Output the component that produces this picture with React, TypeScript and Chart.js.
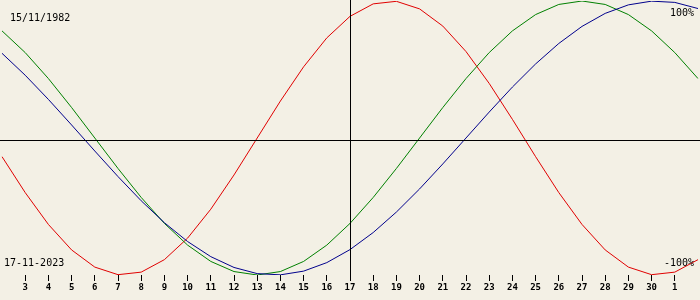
import React, { useEffect, useRef } from "react";
import { Chart, registerables } from "chart.js";

Chart.register(...registerables);

// Days from 2 Nov 2023 to 2 Dec 2023
const days = [
  "2", "3", "4", "5", "6", "7", "8", "9", "10", "11", "12", "13", "14", "15", "16",
  "17", "18", "19", "20", "21", "22", "23", "24", "25", "26", "27", "28", "29", "30",
  "1", "2",
];

const physical = [
  -0.1362, -0.3984, -0.631, -0.817, -0.9423, -0.9977, -0.9791, -0.8879, -0.7308, -0.5196,
  -0.2698, 0, 0.2698, 0.5196, 0.7308, 0.8879, 0.9791, 0.9977, 0.9423, 0.817, 0.631, 0.3984,
  0.1362, -0.1362, -0.3984, -0.631, -0.817, -0.9423, -0.9977, -0.9791, -0.8879,
];

const emotional = [
  0.7818, 0.6235, 0.4339, 0.2225, 0, -0.2225, -0.4339, -0.6235, -0.7818, -0.901, -0.9749,
  -1, -0.9749, -0.901, -0.7818, -0.6235, -0.4339, -0.2225, 0, 0.2225, 0.4339, 0.6235,
  0.7818, 0.901, 0.9749, 1, 0.9749, 0.901, 0.7818, 0.6235, 0.4339,
];

const intellectual = [
  0.6182, 0.4582, 0.2817, 0.0951, -0.0951, -0.2817, -0.4582, -0.6182, -0.7557, -0.866,
  -0.945, -0.9898, -0.9989, -0.9718, -0.9096, -0.8146, -0.6901, -0.5406, -0.3717, -0.1893,
  0, 0.1893, 0.3717, 0.5406, 0.6901, 0.8146, 0.9096, 0.9718, 0.9989, 0.9898, 0.945,
];

const birthDate = "15/11/1982";
const currentDate = "17-11-2023";
const todayIndex = 15;
const topLabel = "100%";
const bottomLabel = "-100%";

const BG = "#f3f0e5";

const overlayPlugin = {
  id: "overlay",
  beforeDraw(chart: any) {
    const { ctx, width, height } = chart;
    ctx.save();
    ctx.fillStyle = BG;
    ctx.fillRect(0, 0, width, height);
    ctx.restore();
  },
  afterDatasetsDraw(chart: any) {
    const { ctx, chartArea, scales } = chart;
    const x = scales.x;
    const y = scales.y;
    ctx.save();
    ctx.strokeStyle = "#000";
    ctx.lineWidth = 1;
    // horizontal zero line
    const y0 = Math.round(y.getPixelForValue(0) + 2) + 0.5;
    ctx.beginPath();
    ctx.moveTo(0, y0);
    ctx.lineTo(chart.width, y0);
    ctx.stroke();
    // vertical today line
    const xt = Math.round(x.getPixelForValue(todayIndex)) + 0.5;
    ctx.beginPath();
    ctx.moveTo(xt, 0);
    ctx.lineTo(xt, chartArea.bottom + 6);
    ctx.stroke();

    ctx.fillStyle = "#000";
    ctx.font = '10px "DejaVu Sans Mono"';
    ctx.textBaseline = "alphabetic";
    ctx.textAlign = "left";
    ctx.fillText(birthDate, 10, 21);
    ctx.fillText(currentDate, 4, 266);
    ctx.textAlign = "right";
    ctx.fillText(topLabel, 694, 16);
    ctx.fillText(bottomLabel, 694, 266);
    ctx.restore();
  },
};

export default function App() {
  const ref = useRef<HTMLCanvasElement | null>(null);

  useEffect(() => {
    if (!ref.current) return;
    const last = days.length - 1;
    const chart = new Chart(ref.current, {
      type: "line",
      data: {
        labels: days,
        datasets: [
          { data: intellectual, borderColor: "#00008c", borderWidth: 1, pointRadius: 0, tension: 0 },
          { data: emotional, borderColor: "#008000", borderWidth: 1, pointRadius: 0, tension: 0 },
          { data: physical, borderColor: "#e00000", borderWidth: 1, pointRadius: 0, tension: 0 },
        ],
      },
      options: {
        animation: false,
        responsive: false,
        maintainAspectRatio: false,
        layout: { padding: { top: 1, left: 0, right: 0, bottom: 5 } },
        plugins: { legend: { display: false }, tooltip: { enabled: false } },
        scales: {
          x: {
            type: "category",
            offset: false,
            border: { display: false },
            grid: {
              drawOnChartArea: false,
              drawTicks: true,
              tickLength: 6,
              color: (c: any) => (c.index === 0 || c.index === last ? "rgba(0,0,0,0)" : "#000"),
            },
            ticks: {
              autoSkip: false,
              maxRotation: 0,
              padding: 2,
              color: "#000",
              font: { family: "DejaVu Sans Mono", size: 9, weight: "bold", lineHeight: 10 / 9 },
              callback: (_v: any, i: number) => (i === 0 || i === last ? "" : days[i]),
            },
          },
          y: { display: false, min: -1, max: 1 },
        },
      },
      plugins: [overlayPlugin],
    });
    return () => chart.destroy();
  }, []);

  return (
    <div style={{ position: "fixed", left: 0, top: 0, width: 700, height: 300 }}>
      <canvas ref={ref} width={700} height={300} />
    </div>
  );
}
